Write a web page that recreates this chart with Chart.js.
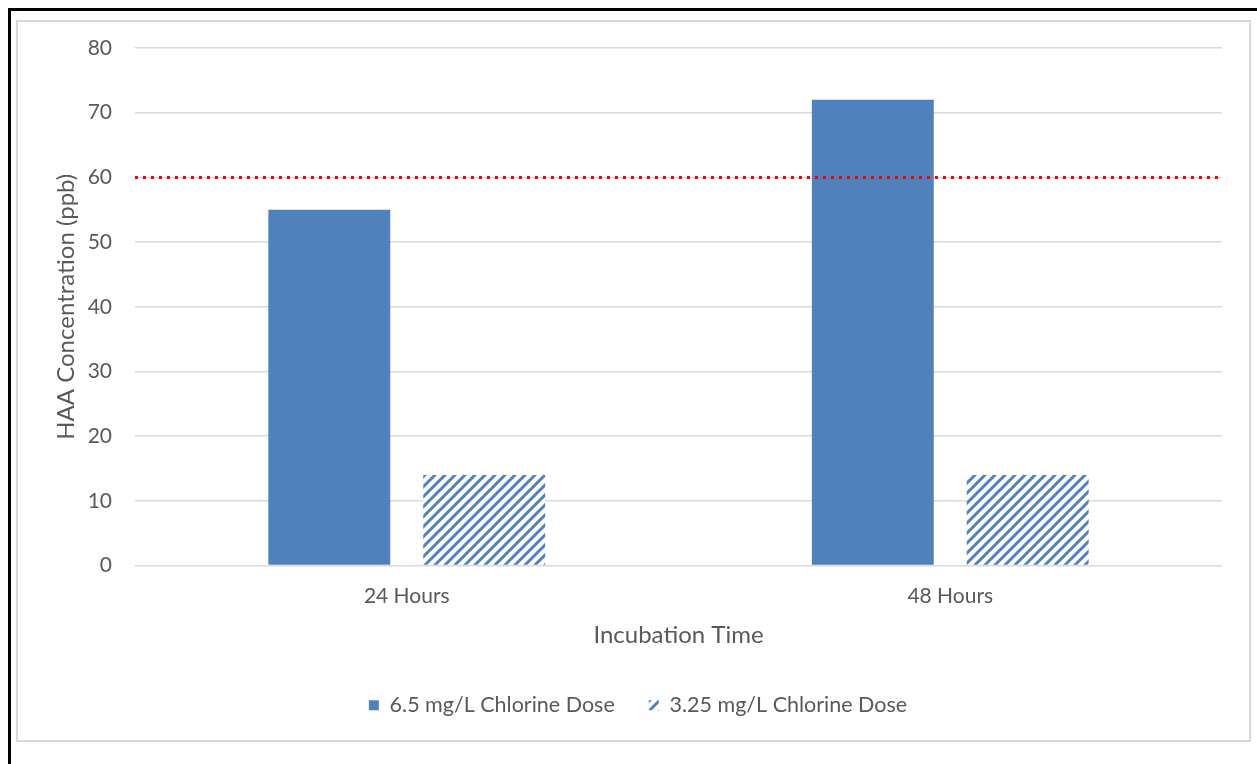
<!DOCTYPE html>
<html>
<head>
<meta charset="utf-8">
<script src="https://cdn.jsdelivr.net/npm/chart.js@4.4.0/dist/chart.umd.min.js"></script>
<style>
  html, body { margin: 0; padding: 0; background: #fff; overflow: hidden; }
  #frameOuter { position: absolute; left: 8px; top: 8px; width: 1300px; height: 800px;
    border-left: 3px solid #000; border-top: 3px solid #000; }
  #frameInner { position: absolute; left: 16px; top: 20px; width: 1235px; height: 722px;
    box-sizing: border-box; border: 2px solid #d9d9d9; }
  #chart { position: absolute; left: 0; top: 0; }
</style>
</head>
<body>
<div id="frameOuter"></div>
<div id="frameInner"></div>
<canvas id="chart" width="1257" height="764"></canvas>
<script>
// --- dati ---
const categorie = ['24 Hours', '48 Hours'];
const dose65 = [55, 72];
const dose325 = [14, 14];
const nomiSerie = ['6.5 mg/L Chlorine Dose', '3.25 mg/L Chlorine Dose'];
const yTicks = [0, 10, 20, 30, 40, 50, 60, 70, 80];
const limiteHAA = 60;   // linea rossa tratteggiata

const BLU = '#4f81bd';
const GRIGIO_TESTO = '#595959';
const GRIGIO_GRIGLIA = '#d9d9d9';

// pattern a strisce diagonali "/"
function creaTratteggio() {
  const s = 10;
  const c = document.createElement('canvas');
  c.width = s; c.height = s;
  const g = c.getContext('2d');
  g.fillStyle = '#fff';
  g.fillRect(0, 0, s, s);
  g.strokeStyle = BLU;
  g.lineWidth = 3;
  g.beginPath();
  g.moveTo(-2, s + 2); g.lineTo(s + 2, -2);
  g.moveTo(-2, 2); g.lineTo(2, -2);
  g.moveTo(s - 2, s + 2); g.lineTo(s + 2, s - 2);
  g.stroke();
  return document.getElementById('chart').getContext('2d').createPattern(c, 'repeat');
}

// linea limite disegnata sulla scala y
const lineaLimite = {
  id: 'lineaLimite',
  afterDatasetsDraw(chart) {
    const { ctx, chartArea, scales } = chart;
    const y = Math.round(scales.y.getPixelForValue(limiteHAA)) + 0.5;
    ctx.save();
    ctx.strokeStyle = '#ff0000';
    ctx.lineWidth = 3;
    ctx.setLineDash([3, 5]);
    ctx.beginPath();
    ctx.moveTo(chartArea.left, y);
    ctx.lineTo(chartArea.right, y);
    ctx.stroke();
    ctx.restore();
  }
};

const FONT = 'Lato';

new Chart(document.getElementById('chart').getContext('2d'), {
  type: 'bar',
  data: {
    labels: categorie,
    datasets: [
      { label: nomiSerie[0], data: dose65, backgroundColor: BLU, borderWidth: 0 },
      { label: nomiSerie[1], data: dose325, backgroundColor: creaTratteggio(), borderWidth: 0 }
    ]
  },
  plugins: [lineaLimite],
  options: {
    responsive: false,
    devicePixelRatio: 1,
    animation: false,
    categoryPercentage: 0.57,
    barPercentage: 0.787,
    layout: { padding: { left: 54, top: 48, right: 35, bottom: 38 } },
    plugins: {
      tooltip: { enabled: false },
      legend: {
        position: 'bottom',
        labels: {
          boxWidth: 10, boxHeight: 10, padding: 34,
          color: GRIGIO_TESTO,
          font: { family: FONT, size: 21.5 }
        }
      }
    },
    scales: {
      x: {
        grid: { display: false },
        border: { display: false },
        ticks: { color: GRIGIO_TESTO, font: { family: FONT, size: 21 }, padding: 10 },
        title: { display: true, text: 'Incubation Time', color: GRIGIO_TESTO,
          font: { family: FONT, size: 24, lineHeight: 1.0 }, padding: { top: 0, bottom: 13 } },
        afterFit(scale) { scale.height = 95; }
      },
      y: {
        min: 0, max: 80,
        afterBuildTicks(scale) { scale.ticks = yTicks.map(v => ({ value: v })); },
        grid: { color: GRIGIO_GRIGLIA, lineWidth: 1.5, drawTicks: false },
        border: { display: false },
        ticks: { color: GRIGIO_TESTO, font: { family: FONT, size: 21 }, padding: 23 },
        title: { display: true, text: 'HAA Concentration (ppb)', color: GRIGIO_TESTO,
          font: { family: FONT, size: 24, lineHeight: 1.0 }, padding: { top: 0, bottom: 0 } },
        afterFit(scale) { scale.width = 81; }
      }
    }
  }
});
</script>
</body>
</html>
